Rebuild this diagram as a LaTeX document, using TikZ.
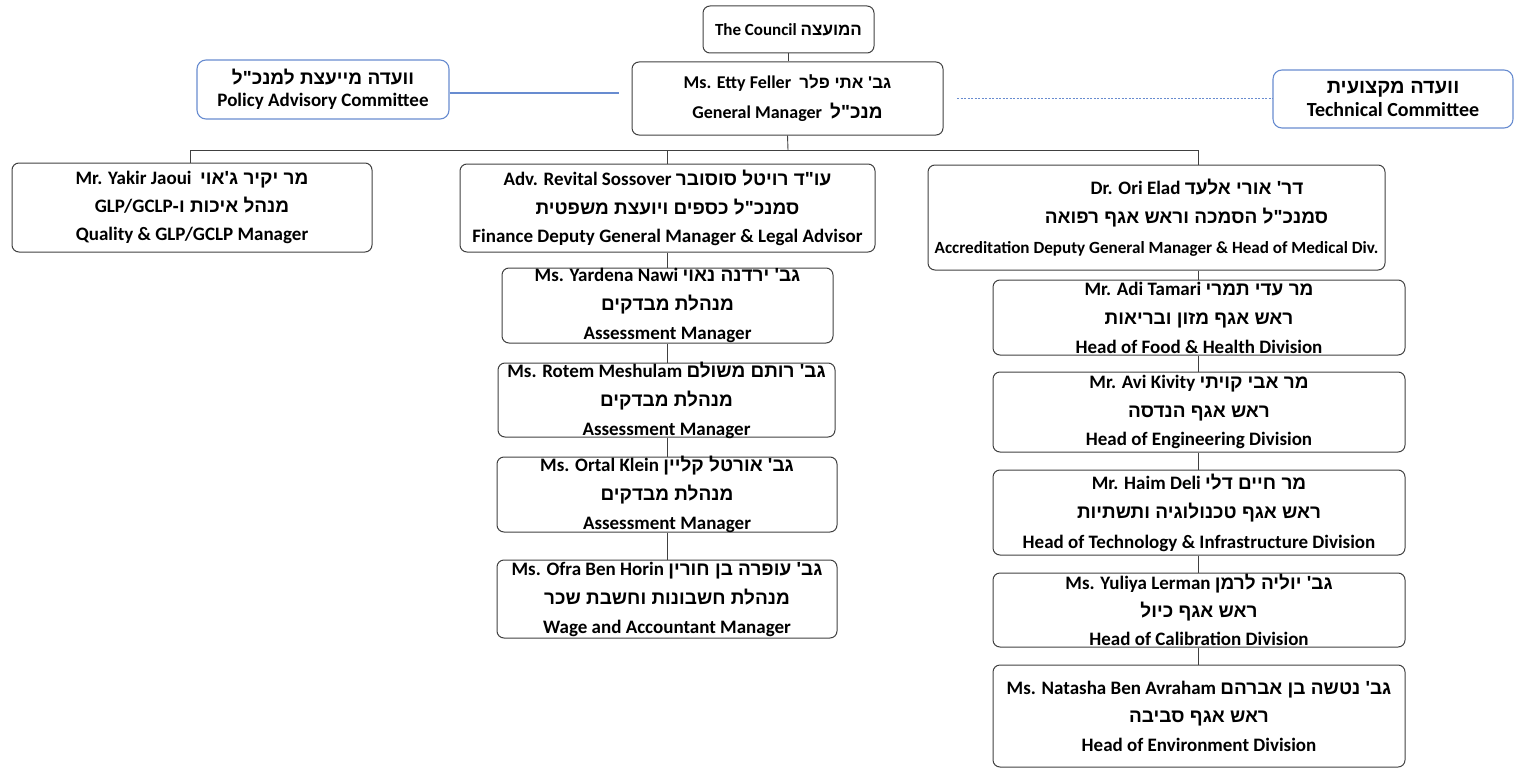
\documentclass[tikz,border=0pt]{standalone}
\usepackage{fontspec}
\setmainfont{Carlito}
\newfontfamily\hebfont[Script=Hebrew,Ligatures=TeXOff]{Liberation Sans}
\TeXXeTstate=1
\newcommand\heb[1]{{\hebfont\bfseries\beginR #1\endR}}
\newcommand\lat[1]{\beginL{\rmfamily\bfseries #1}\endL}
\newcommand\fsz[2]{\fontsize{#1}{#2}\selectfont\bfseries}
\definecolor{blueline}{RGB}{104,140,208}
\definecolor{boxline}{RGB}{64,64,64}
\newcommand\orgbox[9]{%
  \node[#1,minimum width=#5pt,minimum height=#6pt] (#2) at (#3,#4) {};
  \node[txt,font=\fsz{#7}{#8}] (#2-t) at (#2.center) {#9};}
\begin{document}
\begin{tikzpicture}[x=1pt,y=-1pt,
  box/.style={draw=boxline,line width=1pt,rounded corners=7pt,inner sep=0pt},
  bluebox/.style={draw=blueline,line width=1.1pt,rounded corners=9pt,inner sep=0pt},
  txt/.style={inner sep=0pt,align=center,text=black},
  conn/.style={draw=boxline,line width=0.9pt},
  blueconn/.style={draw=blueline,line width=1.1pt},
  dotconn/.style={draw=blueline,line width=0.8pt,dash pattern=on 2pt off 1.5pt}]
\useasboundingbox (0,0) rectangle (1523,768);
% top
\orgbox{box}{council}{788.5}{29.5}{171}{47}{17}{22}{The Council \heb{המועצה}}
\orgbox{box}{gm}{787.5}{98.5}{311}{73}{18}{30}{Ms. Etty Feller\ \ {\fontsize{17}{30}\selectfont\heb{גב\kern0pt' אתי פלר}}\\General Manager\ \ {\fontsize{19}{30}\selectfont\heb{מנכ"ל}}}
\orgbox{bluebox}{policy}{323}{89.5}{252}{59}{19}{22}{\heb{וועדה מייעצת למנכ"ל}\\Policy Advisory Committee}
\orgbox{bluebox}{tech}{1393}{99}{240}{58}{20}{23}{\heb{וועדה מקצועית}\\Technical Committee}
% second level
\orgbox{box}{yakir}{192}{207.5}{360}{89}{19}{28}{Mr. Yakir Jaoui\ \ \heb{מר יקיר ג'אוי}\\\heb{מנהל איכות ו\kern0pt-\lat{GLP/GCLP}}\\Quality \& GLP/GCLP Manager}
\orgbox{box}{revital}{667.5}{208}{415}{88}{19}{28.5}{Adv. Revital Sossover \heb{עו"ד רויטל סוסובר}\\\heb{סמנכ"ל כספים ויועצת משפטית}\\Finance Deputy General Manager \& Legal Advisor}
\orgbox{box}{ori}{1156.5}{217.5}{457}{105}{19}{29.5}{\hspace*{81pt}Dr. Ori Elad \heb{דר\kern0pt' אורי אלעד}\\\hspace*{60pt}\heb{סמנכ"ל הסמכה וראש אגף רפואה}\\{\fontsize{17.1}{29.5}\selectfont Accreditation Deputy General Manager \& Head of Medical Div.}}
% middle column
\orgbox{box}{yardena}{667.5}{305.5}{331}{75}{19}{29}{Ms. Yardena Nawi \heb{גב\kern0pt' ירדנה נאוי}\\\heb{מנהלת מבדקים}\\Assessment Manager}
\orgbox{box}{rotem}{666.5}{400}{337}{74}{19}{29}{Ms. Rotem Meshulam \heb{גב\kern0pt' רותם משולם}\\\heb{מנהלת מבדקים}\\Assessment Manager}
\orgbox{box}{ortal}{667}{494.5}{340}{75}{19}{29}{Ms. Ortal Klein \heb{גב\kern0pt' אורטל קליין}\\\heb{מנהלת מבדקים}\\Assessment Manager}
\orgbox{box}{ofra}{667}{599}{340}{78}{19}{29}{Ms. Ofra Ben Horin \heb{גב\kern0pt' עופרה בן חורין}\\\heb{מנהלת חשבונות וחשבת שכר}\\Wage and Accountant Manager}
% right column
\orgbox{box}{adi}{1199}{317.5}{412}{75}{19}{29}{Mr. Adi Tamari \heb{מר עדי תמרי}\\\heb{ראש אגף מזון ובריאות}\\Head of Food \& Health Division}
\orgbox{box}{avi}{1199}{412}{412}{80}{19}{28.5}{Mr. Avi Kivity \heb{מר אבי קויתי}\\\heb{ראש אגף הנדסה}\\Head of Engineering Division}
\orgbox{box}{haim}{1199}{512.5}{412}{85}{19}{29.5}{Mr. Haim Deli \heb{מר חיים דלי}\\\heb{ראש אגף טכנולוגיה ותשתיות}\\Head of Technology \& Infrastructure Division}
\orgbox{box}{yuliya}{1199}{610}{412}{74}{19}{28}{Ms. Yuliya Lerman \heb{גב\kern0pt' יוליה לרמן}\\\heb{ראש אגף כיול}\\Head of Calibration Division}
\orgbox{box}{natasha}{1199}{716}{412}{102}{19}{28.5}{Ms. Natasha Ben Avraham \heb{גב\kern0pt' נטשה בן אברהם}\\\heb{ראש אגף סביבה}\\Head of Environment Division}
% connectors
\coordinate (bus) at (788,150);
\coordinate (busL) at (190,150);
\coordinate (busR) at (1198,150);
\coordinate (polEnd) at (619,93);
\coordinate (techEnd) at (957,98);
\draw[conn] (council.south) -- (council.south |- gm.north);
\draw[conn] (gm.south) -- (bus);
\draw[conn] (busL) -- (busR);
\draw[conn] (busL) -- (busL |- yakir.north);
\draw[conn] (revital.north |- bus) -- (revital.north);
\draw[conn] (busR) -- (busR |- ori.north);
\draw[conn] (revital.south) -- (revital.south |- yardena.north);
\draw[conn] (revital.south |- yardena.south) -- (revital.south |- rotem.north);
\draw[conn] (revital.south |- rotem.south) -- (revital.south |- ortal.north);
\draw[conn] (revital.south |- ortal.south) -- (revital.south |- ofra.north);
\draw[conn] (busR |- ori.south) -- (busR |- adi.north);
\draw[conn] (busR |- adi.south) -- (busR |- avi.north);
\draw[conn] (busR |- avi.south) -- (busR |- haim.north);
\draw[conn] (busR |- haim.south) -- (busR |- yuliya.north);
\draw[conn] (busR |- yuliya.south) -- (busR |- natasha.north);
\draw[blueconn] (policy.east |- polEnd) -- (polEnd);
\draw[dotconn] (techEnd) -- (tech.west |- techEnd);
\end{tikzpicture}
\end{document}
